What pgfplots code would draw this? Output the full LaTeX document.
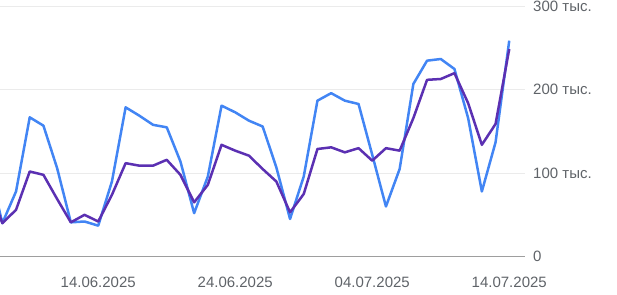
\documentclass[border=0pt]{standalone}
\usepackage{pgfplots}
\pgfplotsset{compat=1.18}
\usepackage{pgfplotstable}
\usepackage{fontspec}
\setmainfont{Liberation Sans}
\definecolor{gblue}{HTML}{4285F4}
\definecolor{gpurple}{HTML}{5B30B2}
\definecolor{gtext}{HTML}{5F6368}
\definecolor{ggrid}{HTML}{EBEBEB}
\definecolor{gaxis}{HTML}{9E9E9E}
\pgfplotstableread{
d blue purple
-1 110 85
0 40 40
1 78 56
2 167 102
3 157 98
4 106 69
5 41 41
6 42 50
7 37 42
8 90 74
9 179 112
10 169 109
11 158 109
12 155 116
13 114 98
14 52 65
15 96 86
16 181 134
17 173 127
18 163 121
19 156 105
20 107 90
21 45 53
22 96 75
23 187 129
24 196 131
25 187 125
26 183 130
27 122 115
28 60 130
29 105 127
30 207 166
31 235 212
32 237 213
33 225 220
34 166 184
35 78 134
36 137 159
37 259 249
}\datatable
\begin{document}
\begin{tikzpicture}
\begin{axis}[
  name=ax,
  scale only axis,
  width=525pt, height=250pt,
  xmin=-0.17, xmax=38.15,
  ymin=0, ymax=300,
  axis line style={draw=none},
  tick style={draw=none},
  xtick={7,17,27,37},
  xticklabels={14.06.2025,24.06.2025,04.07.2025,14.07.2025},
  xticklabel style={anchor=north, inner sep=0pt, yshift=-20pt, text=gtext, font=\fontsize{15}{18}\selectfont},
  ytick={100,200,300},
  yticklabels={100 тыс.,200 тыс.,300 тыс.},
  yticklabel pos=right,
  yticklabel style={anchor=west, inner sep=0pt, xshift=8pt, text=gtext, font=\fontsize{15}{18}\selectfont},
  extra y ticks={0},
  extra y tick labels={0},
  extra y tick style={grid style={draw=gaxis, line width=1.2pt}},
  ymajorgrids,
  grid style={draw=ggrid, line width=1pt},
  every axis plot/.append style={line width=2.5pt, line join=round, mark=none},
]
\addplot[color=gblue] table[x=d, y=blue] {\datatable};
\addplot[color=gpurple] table[x=d, y=purple] {\datatable};
\end{axis}
\pgfresetboundingbox
\useasboundingbox ([yshift=-37.5pt]ax.south west) rectangle ([xshift=92pt,yshift=6.5pt]ax.north east);
\end{tikzpicture}
\end{document}
